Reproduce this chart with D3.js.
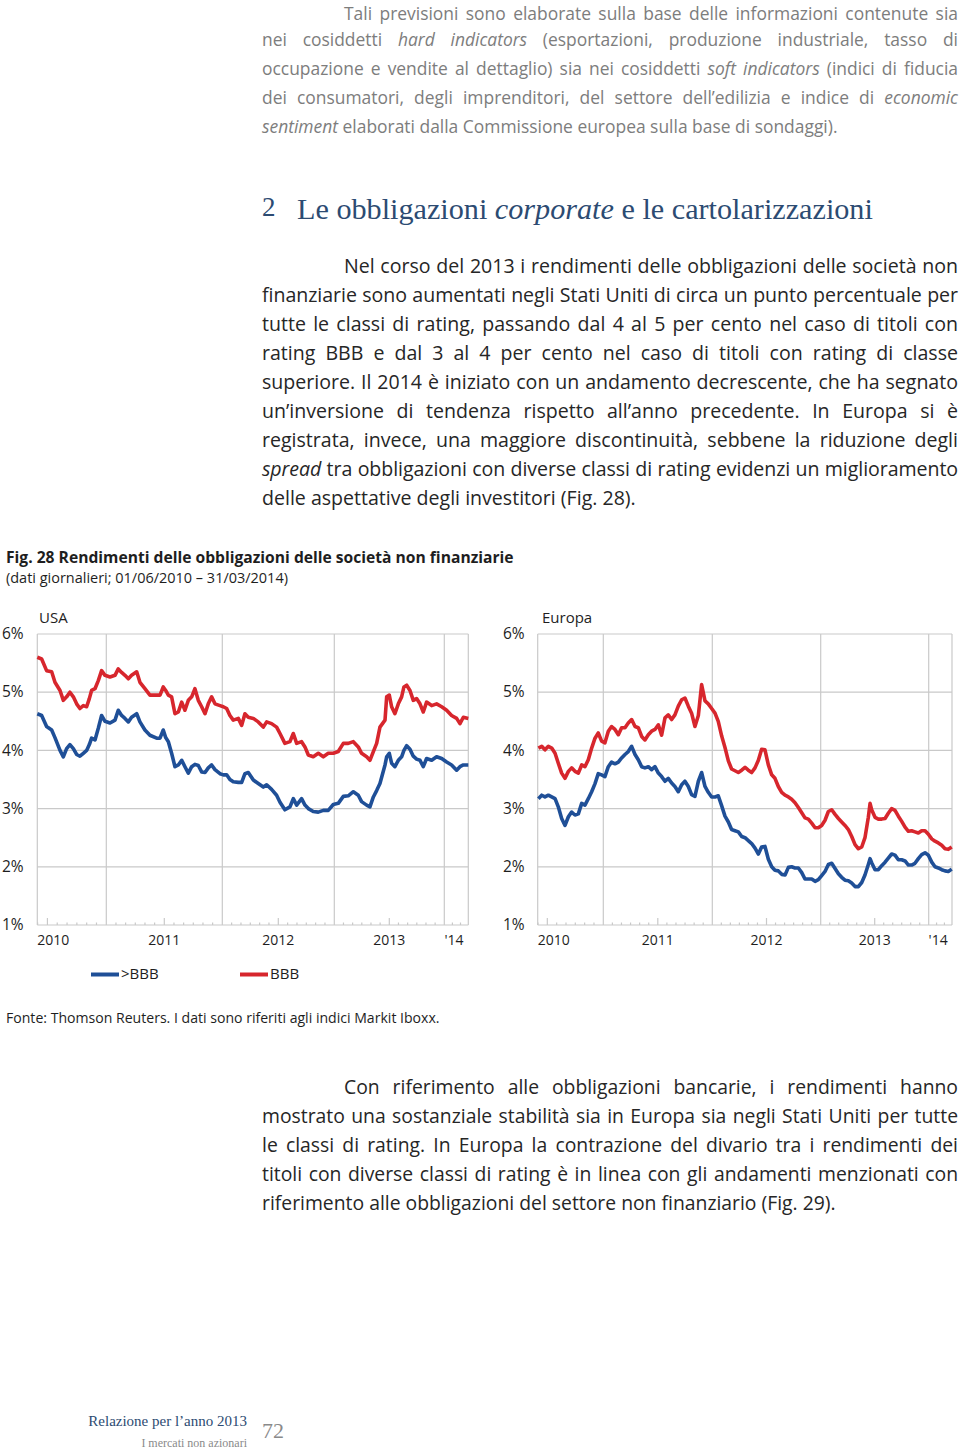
<!DOCTYPE html>
<html>
<head>
<meta charset="utf-8">
<script src="https://cdn.jsdelivr.net/npm/d3@7"></script>
<style>
  body { margin: 0; background: #fff; }
  #page { position: relative; width: 960px; height: 1450px; overflow: hidden; background: #fff;
          font-family: "Open Sans", Lato, sans-serif; }
  #page svg { position: absolute; left: 0; top: 0; font-family: "Open Sans", Lato, sans-serif; }
  .tl { position: absolute; white-space: nowrap; height: 29px; line-height: 29px; }
  .just { text-align: justify; text-align-last: justify; }
  .serif { position: absolute; white-space: nowrap; font-family: "Liberation Serif", "DejaVu Serif", serif; }
</style>
</head>
<body>
<div id="page"></div>
<script>
// ---- data ----
const xDomain = [2010.414, 2011, 2012, 2013, 2014, 2014.247]
const yTicks = [1, 2, 3, 4, 5, 6]
const gridYears = [2011, 2012, 2013, 2014]
const yearLabels = ["2010", "2011", "2012", "2013", "'14"]
const yearLabelAt = [2010.5, 2011.5, 2012.5, 2013.5, 2014.1]
const seriesNames = [">BBB", "BBB"]

const usaYears = [2010.414, 2010.451, 2010.493, 2010.536, 2010.564, 2010.607, 2010.635, 2010.663, 2010.691, 2010.720,
  2010.748, 2010.776, 2010.805, 2010.833, 2010.856, 2010.875, 2010.904, 2010.932, 2010.960, 2010.989,
  2011.032, 2011.075, 2011.103, 2011.132, 2011.161, 2011.190, 2011.218, 2011.262, 2011.290, 2011.333,
  2011.376, 2011.434, 2011.463, 2011.491, 2011.512, 2011.535, 2011.563, 2011.592, 2011.621, 2011.650,
  2011.678, 2011.707, 2011.736, 2011.764, 2011.793, 2011.822, 2011.851, 2011.879, 2011.908, 2011.937, 2011.980,
  2012.009, 2012.039, 2012.068, 2012.098, 2012.143, 2012.173, 2012.202, 2012.232, 2012.277, 2012.321,
  2012.366, 2012.396, 2012.440, 2012.485, 2012.515, 2012.559, 2012.604, 2012.634, 2012.664, 2012.708,
  2012.738, 2012.768, 2012.812, 2012.857, 2012.902, 2012.946, 2012.991,
  2013.036, 2013.082, 2013.127, 2013.173, 2013.218, 2013.248, 2013.294, 2013.324, 2013.355, 2013.385,
  2013.415, 2013.461, 2013.476, 2013.500, 2013.521, 2013.551, 2013.582, 2013.612, 2013.633, 2013.658,
  2013.688, 2013.718, 2013.748, 2013.779, 2013.809, 2013.839, 2013.885, 2013.930, 2013.976,
  2014.024, 2014.075, 2014.127, 2014.161, 2014.196, 2014.247]
const usaHigh = [4.63, 4.60, 4.41, 4.35, 4.22, 4.00, 3.89, 4.03, 4.10, 4.03, 3.93, 3.90, 3.95, 4.00, 4.10, 4.21, 4.18, 4.38, 4.60, 4.50,
  4.47, 4.52, 4.69, 4.60, 4.55, 4.49, 4.57, 4.63, 4.49, 4.35, 4.26, 4.21, 4.21, 4.35, 4.22, 4.15, 3.95, 3.72, 3.75, 3.83,
  3.72, 3.61, 3.72, 3.76, 3.74, 3.63, 3.62, 3.70, 3.75, 3.67, 3.60,
  3.58, 3.58, 3.50, 3.46, 3.45, 3.45, 3.60, 3.62, 3.49, 3.43, 3.37, 3.41, 3.33, 3.23, 3.11, 2.98, 3.03, 3.17, 3.06, 3.17,
  3.06, 3.00, 2.95, 2.94, 2.97, 2.97, 3.07,
  3.09, 3.21, 3.22, 3.29, 3.23, 3.12, 3.06, 3.03, 3.20, 3.31, 3.43, 3.75, 3.89, 3.95, 3.78, 3.72, 3.83, 3.89, 4.00, 4.08,
  4.02, 3.90, 3.85, 3.83, 3.72, 3.86, 3.83, 3.89, 3.86,
  3.80, 3.75, 3.66, 3.72, 3.75, 3.75]
const usaBBB = [5.60, 5.57, 5.37, 5.35, 5.17, 5.03, 4.86, 4.92, 5.00, 4.92, 4.80, 4.72, 4.77, 4.75, 4.89, 5.03, 5.06, 5.20, 5.37, 5.29,
  5.26, 5.29, 5.40, 5.34, 5.29, 5.23, 5.29, 5.35, 5.17, 5.06, 4.95, 4.95, 4.95, 5.09, 5.03, 4.95, 4.92, 4.63, 4.66, 4.83,
  4.69, 4.86, 4.92, 5.06, 4.86, 4.75, 4.63, 4.80, 4.92, 4.80, 4.77,
  4.75, 4.72, 4.60, 4.52, 4.55, 4.43, 4.63, 4.57, 4.55, 4.49, 4.40, 4.49, 4.46, 4.40, 4.29, 4.12, 4.15, 4.29, 4.12, 4.15,
  4.06, 3.92, 3.89, 3.95, 3.89, 3.95, 3.95,
  3.98, 4.12, 4.12, 4.15, 4.06, 3.95, 3.89, 3.83, 3.98, 4.12, 4.40, 4.52, 4.92, 4.95, 4.75, 4.63, 4.80, 4.92, 5.09, 5.12,
  5.03, 4.86, 4.89, 4.80, 4.66, 4.83, 4.77, 4.80, 4.75,
  4.69, 4.60, 4.55, 4.46, 4.57, 4.55]

const euYears = [2010.420, 2010.450, 2010.479, 2010.509, 2010.539, 2010.569, 2010.598, 2010.628, 2010.658, 2010.688,
  2010.717, 2010.747, 2010.777, 2010.807, 2010.836, 2010.866, 2010.896, 2010.926, 2010.955, 2010.985,
  2011.015, 2011.046, 2011.076, 2011.107, 2011.138, 2011.168, 2011.199, 2011.229, 2011.260, 2011.291,
  2011.321, 2011.352, 2011.382, 2011.413, 2011.443, 2011.474, 2011.505, 2011.535, 2011.566, 2011.596,
  2011.627, 2011.657, 2011.688, 2011.719, 2011.749, 2011.780, 2011.810, 2011.841, 2011.872, 2011.902,
  2011.933, 2011.963, 2011.994,
  2012.025, 2012.055, 2012.086, 2012.117, 2012.148, 2012.178, 2012.209, 2012.240, 2012.271, 2012.302,
  2012.332, 2012.363, 2012.394, 2012.425, 2012.455, 2012.486, 2012.517, 2012.548, 2012.578, 2012.609,
  2012.640, 2012.671, 2012.702, 2012.732, 2012.763, 2012.794, 2012.825, 2012.855, 2012.886, 2012.917,
  2012.948, 2012.978,
  2013.009, 2013.040, 2013.071, 2013.102, 2013.133, 2013.164, 2013.194, 2013.225, 2013.256, 2013.287,
  2013.318, 2013.349, 2013.380, 2013.410, 2013.441, 2013.457, 2013.472, 2013.503, 2013.534, 2013.565,
  2013.596, 2013.626, 2013.657, 2013.688, 2013.719, 2013.750, 2013.781, 2013.812, 2013.842, 2013.873,
  2013.904, 2013.935, 2013.966, 2013.997,
  2014.032, 2014.067, 2014.102, 2014.138, 2014.173, 2014.208, 2014.244]
const euHigh = [3.17, 3.23, 3.20, 3.23, 3.20, 3.17, 3.03, 2.83, 2.71, 2.86, 2.94, 2.89, 2.91, 3.09, 3.06, 3.17, 3.29, 3.43, 3.60, 3.58,
  3.55, 3.72, 3.80, 3.77, 3.80, 3.87, 3.93, 3.98, 4.07, 3.93, 3.84, 3.72, 3.70, 3.72, 3.67, 3.72, 3.61, 3.55, 3.47, 3.52,
  3.44, 3.38, 3.29, 3.41, 3.47, 3.38, 3.24, 3.21, 3.47, 3.62, 3.38, 3.28, 3.20,
  3.20, 3.22, 3.05, 2.87, 2.77, 2.64, 2.62, 2.60, 2.52, 2.50, 2.45, 2.40, 2.32, 2.22, 2.34, 2.35, 2.13, 2.00, 1.94, 1.93,
  1.87, 1.86, 1.99, 2.00, 1.98, 1.98, 1.90, 1.79, 1.79, 1.79, 1.75, 1.78,
  1.85, 1.92, 2.04, 2.06, 1.97, 1.88, 1.82, 1.77, 1.76, 1.72, 1.66, 1.66, 1.73, 1.86, 2.04, 2.14, 2.07, 1.95, 1.95, 2.02,
  2.08, 2.15, 2.22, 2.20, 2.12, 2.12, 2.10, 2.03, 2.03, 2.06, 2.14, 2.21, 2.24, 2.20,
  2.08, 2.00, 1.98, 1.95, 1.93, 1.92, 1.96]
const euBBB = [4.04, 4.07, 4.01, 4.07, 4.04, 3.95, 3.78, 3.61, 3.52, 3.64, 3.70, 3.64, 3.61, 3.75, 3.72, 3.84, 4.04, 4.21, 4.30, 4.16,
  4.13, 4.33, 4.41, 4.36, 4.27, 4.39, 4.39, 4.47, 4.53, 4.41, 4.39, 4.24, 4.18, 4.27, 4.33, 4.36, 4.44, 4.26, 4.56, 4.61,
  4.53, 4.61, 4.76, 4.87, 4.90, 4.76, 4.64, 4.41, 4.60, 5.13, 4.85, 4.80, 4.72,
  4.64, 4.50, 4.25, 4.05, 3.82, 3.68, 3.65, 3.62, 3.66, 3.71, 3.66, 3.62, 3.70, 3.83, 4.02, 4.01, 3.75, 3.58, 3.52, 3.38,
  3.28, 3.23, 3.20, 3.16, 3.10, 3.02, 2.93, 2.84, 2.82, 2.75, 2.67, 2.67,
  2.71, 2.80, 2.95, 2.98, 2.90, 2.83, 2.77, 2.71, 2.64, 2.52, 2.38, 2.31, 2.34, 2.50, 2.85, 3.09, 2.98, 2.85, 2.82, 2.82,
  2.83, 2.92, 3.00, 2.97, 2.87, 2.78, 2.68, 2.61, 2.62, 2.60, 2.58, 2.62, 2.62, 2.56,
  2.48, 2.44, 2.41, 2.37, 2.31, 2.30, 2.34]

const introLines = [
  "Tali previsioni sono elaborate sulla base delle informazioni contenute sia",
  "nei cosiddetti <i>hard indicators</i> (esportazioni, produzione industriale, tasso di",
  "occupazione e vendite al dettaglio) sia nei cosiddetti <i>soft indicators</i> (indici di fiducia",
  "dei consumatori, degli imprenditori, del settore dell’edilizia e indice di <i>economic</i>",
  "<i>sentiment</i> elaborati dalla Commissione europea sulla base di sondaggi)."
]
const bodyLines = [
  "Nel corso del 2013 i rendimenti delle obbligazioni delle società non",
  "finanziarie sono aumentati negli Stati Uniti di circa un punto percentuale per",
  "tutte le classi di rating, passando dal 4 al 5 per cento nel caso di titoli con",
  "rating BBB e dal 3 al 4 per cento nel caso di titoli con rating di classe",
  "superiore. Il 2014 è iniziato con un andamento decrescente, che ha segnato",
  "un’inversione di tendenza rispetto all’anno precedente. In Europa si è",
  "registrata, invece, una maggiore discontinuità, sebbene la riduzione degli",
  "<i>spread</i> tra obbligazioni con diverse classi di rating evidenzi un miglioramento",
  "delle aspettative degli investitori (Fig. 28)."
]
const closingLines = [
  "Con riferimento alle obbligazioni bancarie, i rendimenti hanno",
  "mostrato una sostanziale stabilità sia in Europa sia negli Stati Uniti per tutte",
  "le classi di rating. In Europa la contrazione del divario tra i rendimenti dei",
  "titoli con diverse classi di rating è in linea con gli andamenti menzionati con",
  "riferimento alle obbligazioni del settore non finanziario (Fig. 29)."
]

// ---- layout ----
const page = d3.select("#page")
const blue = "#1f4f97", red = "#d7262d", grid = "#c9c9c9", ink = "#1e1e1e"
const yTop = 634, yBottom = 925

const svg = page.append("svg").attr("width", 960).attr("height", 1450)

// scale an svg text so that it spans the wanted width
function fitText(sel, width) {
  const fs = +sel.attr("font-size")
  const w = sel.node().getComputedTextLength()
  sel.attr("font-size", fs * width / w)
  return sel
}

// width of a line of html text at a given size
function measure(html, size) {
  const s = page.append("span").attr("class", "tl").style("font-size", size + "px")
    .style("visibility", "hidden").html(html)
  const w = s.node().getBoundingClientRect().width
  s.remove()
  return w
}

// text blocks; the size of each is set from the width of its last (ragged) line
const blocks = [
  { lines: introLines, top: 10, color: "#7d7d7d", lastWidth: 576 },
  { lines: bodyLines, top: 265, color: "#262626", lastWidth: 374 },
  { lines: closingLines, top: 1086, color: "#262626", lastWidth: 574 }
]
blocks.forEach(b => {
  const size = 18 * b.lastWidth / measure(b.lines[b.lines.length - 1], 18)
  b.lines.forEach((txt, i) => {
    const left = i === 0 ? 344 : 262
    const width = 958 - left
    // the first line of the page sits right at the top edge: keep it fully inside
    const mid = Math.max(b.top + i * 29, 13)
    const half = Math.min(14.5, mid)
    const div = page.append("div").attr("class", "tl")
      .style("left", left + "px")
      .style("top", (mid - half) + "px")
      .style("height", 2 * half + "px")
      .style("line-height", 2 * half + "px")
      .style("font-size", size + "px")
      .style("color", b.color)
    const span = div.append("span").html(txt)
    if (i < b.lines.length - 1) {
      const natural = span.node().getBoundingClientRect().width
      if (natural > width - 4) {
        const n = span.text().length
        div.style("letter-spacing", ((width - 4 - natural) / n) + "px")
      }
      div.style("width", width + "px").classed("just", true)
    }
  })
})

// heading
page.append("div").attr("class", "serif")
  .style("left", "262px").style("top", "192px")
  .style("font-size", "27px").style("color", "#2c4b72")
  .text("2")
const head = page.append("div").attr("class", "serif")
  .style("left", "297px").style("top", "192px")
  .style("font-size", "27px").style("color", "#2c4b72")
  .html("Le obbligazioni <i>corporate</i> e le cartolarizzazioni")
const hw = head.node().getBoundingClientRect().width
head.style("font-size", (27 * 576 / hw) + "px")

// caption
fitText(svg.append("text").attr("x", 6).attr("y", 563)
  .attr("font-size", 16).attr("font-weight", "bold").attr("fill", ink)
  .text("Fig. 28 Rendimenti delle obbligazioni delle società non finanziarie"), 508)
fitText(svg.append("text").attr("x", 6).attr("y", 583)
  .attr("font-size", 14).attr("fill", ink)
  .text("(dati giornalieri; 01/06/2010 – 31/03/2014)"), 282)

// panels
const panels = [
  { title: "USA", years: usaYears, series: [usaHigh, usaBBB], range: [37.3, 106.3, 222.3, 334.3, 444.3, 468.3], labelX: 2, titleX: 39 },
  { title: "Europa", years: euYears, series: [euHigh, euBBB], range: [537.7, 603.3, 712.3, 820.7, 928.7, 952], labelX: 503, titleX: 542 }
]
const y = d3.scaleLinear().domain([1, 6]).range([yBottom, yTop])

panels.forEach(p => {
  const x = d3.scaleLinear().domain(xDomain).range(p.range)
  const [x0, x1] = [p.range[0], p.range[p.range.length - 1]]
  const g = svg.append("g")

  g.append("text").attr("x", p.titleX).attr("y", 623)
    .attr("font-size", 15).attr("fill", ink).text(p.title)

  // horizontal grid + y labels
  g.selectAll(".hgrid").data(yTicks).join("line")
    .attr("x1", x0).attr("x2", x1)
    .attr("y1", d => y(d)).attr("y2", d => y(d))
    .attr("stroke", grid).attr("stroke-width", 1.2)
  g.selectAll(".ylab").data(yTicks).join("text")
    .attr("x", p.labelX).attr("y", d => y(d) + 1)
    .attr("dominant-baseline", "middle")
    .attr("font-size", 15.5).attr("fill", ink)
    .text(d => d + "%")

  // vertical grid at year starts, frame
  g.selectAll(".vgrid").data(gridYears).join("line")
    .attr("x1", d => x(d)).attr("x2", d => x(d))
    .attr("y1", yTop).attr("y2", yBottom)
    .attr("stroke", grid).attr("stroke-width", 1.2)
  g.selectAll(".frame").data([x0, x1]).join("line")
    .attr("x1", d => d).attr("x2", d => d)
    .attr("y1", yTop).attr("y2", yBottom)
    .attr("stroke", grid).attr("stroke-width", 1.2)

  // month ticks on the bottom axis
  const months = []
  for (let yr = 2010; yr <= 2014; yr++)
    for (let m = 1; m < 12; m++) {
      const t = yr + m / 12
      if (t > xDomain[0] && t < xDomain[xDomain.length - 1]) months.push({ t, major: m === 6 })
    }
  g.selectAll(".mtick").data(months).join("line")
    .attr("x1", d => x(d.t)).attr("x2", d => x(d.t))
    .attr("y1", yBottom).attr("y2", d => yBottom - (d.major ? 7 : 2.5))
    .attr("stroke", grid).attr("stroke-width", 1.2)

  // year labels
  g.selectAll(".xlab").data(yearLabels).join("text")
    .attr("y", 941)
    .attr("dominant-baseline", "middle").attr("text-anchor", "middle")
    .attr("font-size", 14).attr("fill", ink)
    .text(d => d)
    .attr("x", function (d, i) {
      const w = this.getComputedTextLength()
      return Math.max(x(yearLabelAt[i]), x0 + w / 2)
    })

  // series
  const line = d3.line().x((d, i) => x(p.years[i])).y(d => y(d))
  g.selectAll(".series").data(p.series).join("path")
    .attr("d", line)
    .attr("fill", "none")
    .attr("stroke", (d, i) => i === 0 ? blue : red)
    .attr("stroke-width", 3.6)
    .attr("stroke-linejoin", "round")
})

// legend
const legend = svg.append("g")
const legendX = [91, 240]
legend.selectAll("line").data(seriesNames).join("line")
  .attr("x1", (d, i) => legendX[i]).attr("x2", (d, i) => legendX[i] + 28)
  .attr("y1", 974.5).attr("y2", 974.5)
  .attr("stroke", (d, i) => i === 0 ? blue : red).attr("stroke-width", 4)
legend.selectAll("text").data(seriesNames).join("text")
  .attr("x", (d, i) => legendX[i] + 30).attr("y", 975)
  .attr("dominant-baseline", "middle")
  .attr("font-size", 15).attr("fill", ink)
  .text(d => d)

// source
fitText(svg.append("text").attr("x", 6).attr("y", 1023)
  .attr("font-size", 14).attr("fill", ink)
  .text("Fonte: Thomson Reuters. I dati sono riferiti agli indici Markit Iboxx."), 434)

// footer
svg.append("text").attr("x", 247).attr("y", 1426).attr("text-anchor", "end")
  .attr("font-family", "Liberation Serif, serif").attr("font-size", 15).attr("fill", "#2c4b72")
  .text("Relazione per l’anno 2013")
svg.append("text").attr("x", 247).attr("y", 1447).attr("text-anchor", "end")
  .attr("font-family", "Liberation Serif, serif").attr("font-size", 12).attr("fill", "#8a8a8a")
  .text("I mercati non azionari")
svg.append("text").attr("x", 262).attr("y", 1438)
  .attr("font-family", "Liberation Serif, serif").attr("font-size", 22).attr("fill", "#8a8a8a")
  .text("72")
</script>
</body>
</html>
